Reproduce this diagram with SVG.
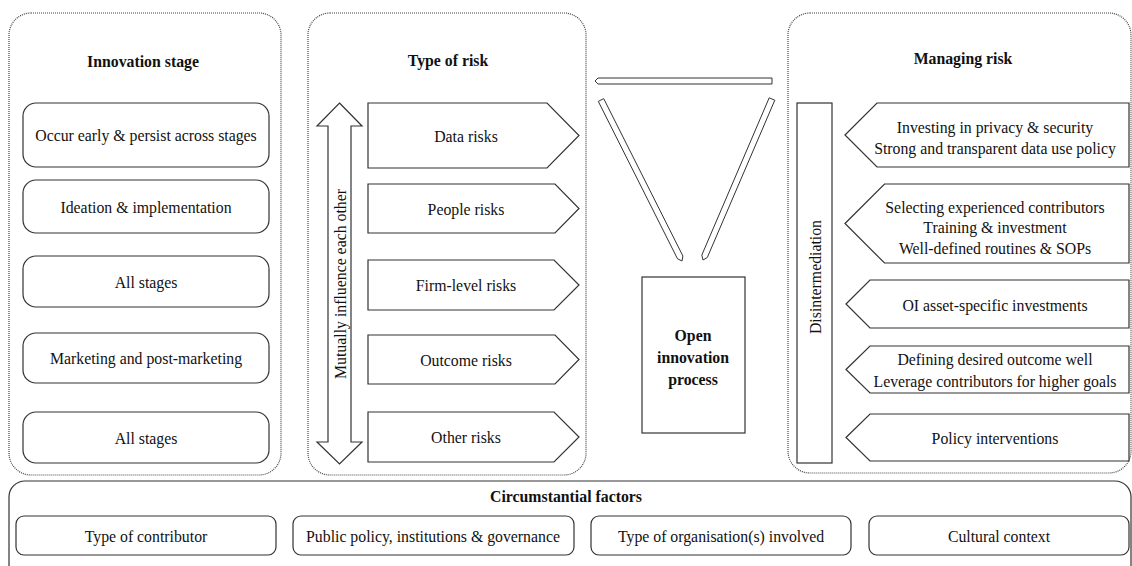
<svg xmlns="http://www.w3.org/2000/svg" width="1132" height="566" viewBox="0 0 1132 566">
<style>
text{font-family:"Liberation Serif","Times New Roman",serif;fill:#111;font-size:15.8px;text-anchor:middle;dominant-baseline:central}
.t{font-weight:bold;font-size:15.8px}
.panel{fill:none;stroke:#444;stroke-width:1.2;stroke-dasharray:1 1}
.box{fill:#fff;stroke:#333;stroke-width:1.2}
.bar{fill:#fff;stroke:#333;stroke-width:1}
</style>
<rect width="1132" height="566" fill="#fff"/>

<g id="innovation-stage">
<rect class="panel" x="9" y="13" width="272" height="462" rx="22"/>
<text class="t" x="143" y="61">Innovation stage</text>
<rect class="box" x="23" y="103" width="246" height="64" rx="13"/>
<text x="146" y="135">Occur early &amp; persist across stages</text>
<rect class="box" x="23" y="180" width="246" height="53" rx="13"/>
<text x="146" y="207">Ideation &amp; implementation</text>
<rect class="box" x="23" y="256" width="246" height="51" rx="13"/>
<text x="146" y="282">All stages</text>
<rect class="box" x="23" y="333" width="246" height="50" rx="13"/>
<text x="146" y="358">Marketing and post-marketing</text>
<rect class="box" x="23" y="412" width="246" height="51" rx="13"/>
<text x="146" y="438">All stages</text>
</g>

<g id="type-of-risk">
<rect class="panel" x="308" y="13" width="278" height="462" rx="22"/>
<text class="t" x="448" y="60">Type of risk</text>
<polygon class="box" points="339.5,103 362,126 351,126 351,442 362,442 339.5,464 317,442 328,442 328,126 317,126"/>
<text x="340" y="284" font-size="18" transform="rotate(-90 340 284)">Mutually influence each other</text>
<polygon class="box" points="368,103 547,103 579,135.5 547,168 368,168"/>
<text x="466" y="136">Data risks</text>
<polygon class="box" points="368,184 555,184 579,208.5 555,233 368,233"/>
<text x="466" y="209">People risks</text>
<polygon class="box" points="368,260 554,260 579,285 554,310 368,310"/>
<text x="466" y="285">Firm-level risks</text>
<polygon class="box" points="368,335 555,335 579,359.5 555,384 368,384"/>
<text x="466" y="360">Outcome risks</text>
<polygon class="box" points="368,412 554,412 579,437 554,462 368,462"/>
<text x="466" y="437">Other risks</text>
</g>

<g id="open-innovation-process">
<rect class="box" x="642" y="277" width="103" height="156"/>
<text class="t" x="693" y="335" font-size="18">Open</text>
<text class="t" x="693" y="357" font-size="18">innovation</text>
<text class="t" x="693" y="379" font-size="18">process</text>
</g>

<g id="managing-risk">
<rect class="panel" x="788" y="13" width="343" height="460" rx="22"/>
<text class="t" x="963" y="58">Managing risk</text>
<rect class="box" x="797" y="103" width="35" height="360"/>
<text x="815" y="277" font-size="19.5" transform="rotate(-90 815 277)">Disintermediation</text>
<polygon class="box" points="845,135 877,103 1129,103 1129,167 877,167"/>
<text x="995" y="127">Investing in privacy &amp; security</text>
<text x="995" y="148">Strong and transparent data use policy</text>
<polygon class="box" points="845,223.5 884.5,184 1129,184 1129,263 884.5,263"/>
<text x="995" y="207">Selecting experienced contributors</text>
<text x="995" y="227.5">Training &amp; investment</text>
<text x="995" y="248">Well-defined routines &amp; SOPs</text>
<polygon class="box" points="846,304 870,280 1129,280 1129,328 870,328"/>
<text x="995" y="305">OI asset-specific investments</text>
<polygon class="box" points="846,369.5 870,346 1129,346 1129,393 870,393"/>
<text x="995" y="359">Defining desired outcome well</text>
<text x="995" y="381">Leverage contributors for higher goals</text>
<polygon class="box" points="846,437.5 870,414 1129,414 1129,461 870,461"/>
<text x="995" y="438">Policy interventions</text>
</g>

<g id="circumstantial-factors">
<rect x="9" y="481" width="1122" height="120" rx="16" fill="none" stroke="#333" stroke-width="1.2"/>
<text class="t" x="566" y="496">Circumstantial factors</text>
<rect class="box" x="16" y="516" width="260" height="39" rx="8"/>
<text x="146" y="536">Type of contributor</text>
<rect class="box" x="293" y="516" width="281" height="39" rx="8"/>
<text x="433" y="536">Public policy, institutions &amp; governance</text>
<rect class="box" x="591" y="516" width="260" height="39" rx="8"/>
<text x="721" y="536">Type of organisation(s) involved</text>
<rect class="box" x="869" y="516" width="260" height="39" rx="8"/>
<text x="999" y="536">Cultural context</text>
</g>

<g id="connectors">
<polygon class="bar" points="595,81 598,78 772,78 772,84 598,84"/>
<polygon class="bar" points="603.7,98.6 682.9,256 682,261 677.5,258.8 598.3,101.4"/>
<polygon class="bar" points="774.8,100.2 707.3,257.5 703,260 701.8,255.1 769.2,97.8"/>
</g>
</svg>
